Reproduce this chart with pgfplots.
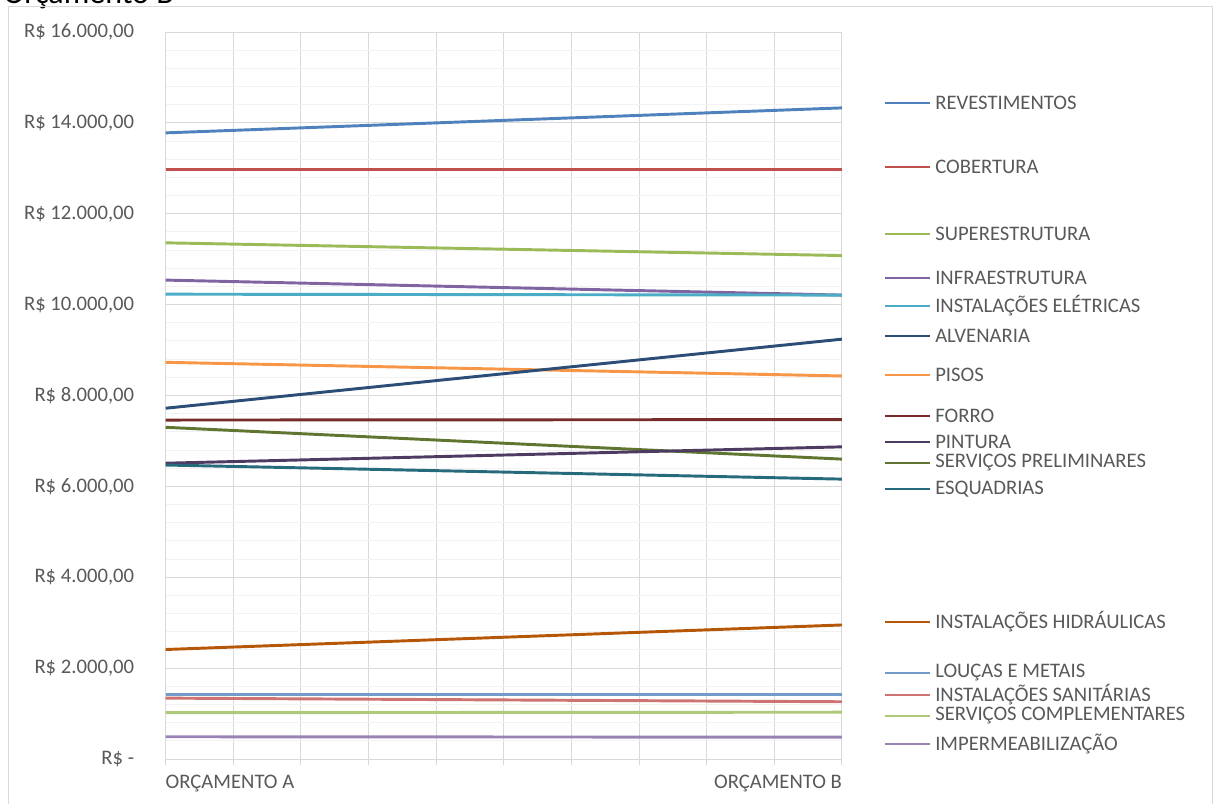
\documentclass[border=0pt]{standalone}
\usepackage{pgfplots}
\pgfplotsset{compat=1.18}
\usepackage{fontspec}
\setmainfont{Carlito}
\definecolor{txt}{HTML}{595959}
\definecolor{gridc}{HTML}{D9D9D9}
\definecolor{gridm}{HTML}{F2F2F2}
\definecolor{c1}{HTML}{4F81BD}
\definecolor{c2}{HTML}{C0504D}
\definecolor{c3}{HTML}{9BBB59}
\definecolor{c4}{HTML}{8064A2}
\definecolor{c5}{HTML}{4BACC6}
\definecolor{c6}{HTML}{F79646}
\definecolor{c7}{HTML}{2C4D75}
\definecolor{c8}{HTML}{772C2A}
\definecolor{c9}{HTML}{5F7530}
\definecolor{c10}{HTML}{4D3B62}
\definecolor{c11}{HTML}{276A7C}
\definecolor{c12}{HTML}{B65708}
\definecolor{c13}{HTML}{729ACA}
\definecolor{c14}{HTML}{CD7371}
\definecolor{c15}{HTML}{AFC97A}
\definecolor{c16}{HTML}{9983B5}
\newcommand{\lf}{\fontsize{15.5}{17}\selectfont}
\begin{document}
\begin{tikzpicture}
\path[use as bounding box, clip] (0pt,0pt) rectangle (909.75pt,-602.25pt);
\begin{scope}[x=0.75pt,y=-0.75pt]
\node[anchor=base west, inner sep=0pt, font=\fontsize{24}{26}\selectfont] at (3,3) {Orçamento B};
\draw[gridc, line width=0.75pt] (8,1000) -- (8,6) -- (1212.5,6) -- (1212.5,1000);
\end{scope}
\begin{axis}[
  at={(124.275pt,-569.25pt)}, anchor=south west,
  scale only axis, width=507.2pt, height=545.25pt,
  xmin=0, xmax=1, ymin=0, ymax=16000,
  scaled y ticks=false, scaled x ticks=false,
  xtick={0,1},
  xticklabels={\makebox[0pt][l]{ORÇAMENTO A},\makebox[0pt][r]{ORÇAMENTO B}},
  minor xtick={0.1,0.2,...,0.9},
  ytick={0,2000,...,16000},
  yticklabels={R\$ -\hspace{5pt},R\$ 2.000{,}00,R\$ 4.000{,}00,R\$ 6.000{,}00,R\$ 8.000{,}00,R\$ 10.000{,}00,R\$ 12.000{,}00,R\$ 14.000{,}00,R\$ 16.000{,}00},
  minor ytick={400,800,...,15600},
  grid=both,
  major grid style={gridc, line width=0.75pt},
  minor x grid style={gridc, line width=0.75pt},
  minor y grid style={gridm, line width=0.75pt},
  axis line style={draw=gridc, line width=0.75pt},
  tick align=outside,
  major tick length=4.5pt, minor tick length=4.5pt,
  x tick style={draw=gridc, line width=0.75pt},
  y tick style={draw=none},
  xtick pos=bottom, ytick pos=left,
  ticklabel style={font=\lf, text=txt},
  xticklabel style={anchor=north, inner sep=0pt, yshift=-7.5pt},
  yticklabel style={anchor=east, inner sep=0pt, xshift=-19pt},
  clip=false,
  every axis plot/.append style={line width=2.2pt, mark=none},
]
\addplot[c1] coordinates {(0,13780) (1,14330)};
\addplot[c2] coordinates {(0,12980) (1,12980)};
\addplot[c3] coordinates {(0,11360) (1,11080)};
\addplot[c4] coordinates {(0,10540) (1,10210)};
\addplot[c5] coordinates {(0,10230) (1,10210)};
\addplot[c6] coordinates {(0,8730) (1,8430)};
\addplot[c7] coordinates {(0,7720) (1,9240)};
\addplot[c8] coordinates {(0,7460) (1,7470)};
\addplot[c9] coordinates {(0,7300) (1,6600)};
\addplot[c10] coordinates {(0,6510) (1,6870)};
\addplot[c11] coordinates {(0,6470) (1,6160)};
\addplot[c12] coordinates {(0,2410) (1,2950)};
\addplot[c13] coordinates {(0,1430) (1,1430)};
\addplot[c14] coordinates {(0,1340) (1,1260)};
\addplot[c15] coordinates {(0,1020) (1,1030)};
\addplot[c16] coordinates {(0,490) (1,480)};
\end{axis}
\begin{scope}[x=0.75pt,y=-0.75pt, every node/.style={anchor=west, inner sep=0pt, font=\lf, text=txt}]
\foreach \yy/\cc/\lab in {103/c1/REVESTIMENTOS, 167/c2/COBERTURA, 234/c3/SUPERESTRUTURA, 278/c4/INFRAESTRUTURA, 306/c5/INSTALAÇÕES ELÉTRICAS, 336/c7/ALVENARIA, 375/c6/PISOS, 416/c8/FORRO, 442/c10/PINTURA, 463/c9/SERVIÇOS PRELIMINARES, 489/c11/ESQUADRIAS, 622/c12/INSTALAÇÕES HIDRÁULICAS, 673/c13/LOUÇAS E METAIS, 695/c14/INSTALAÇÕES SANITÁRIAS, 716/c15/SERVIÇOS COMPLEMENTARES, 744/c16/IMPERMEABILIZAÇÃO}{
  \draw[\cc, line width=2pt] (885,\yy) -- (930,\yy);
  \node at (935,\yy) {\lab};
}
\end{scope}
\end{tikzpicture}
\end{document}
